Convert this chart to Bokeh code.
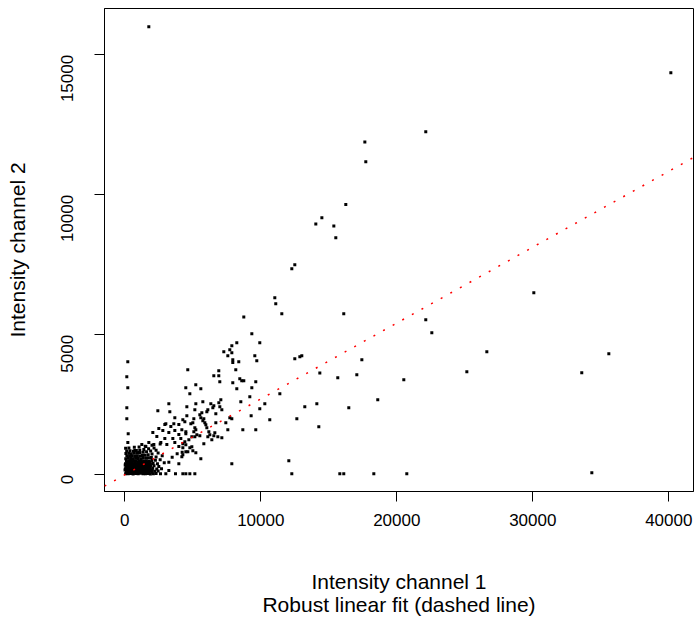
import math
from bokeh.plotting import figure
from bokeh.models import FixedTicker, Slope
from bokeh.embed import file_html
from bokeh.resources import INLINE

# ---- data: isolated / outlying spots (channel 1, channel 2 intensities) ----
outer_ch1 = [1765, 17650, 17720, 16250, 14490, 14045, 15370, 15515, 40150, 22130,
             12500, 12280, 11030, 11100, 11545, 16100, 8750, 9340, 9925, 8235,
             7870, 7280, 7720, 7870, 7575, 7940, 7940, 8380, 9560, 9705,
             12500, 12870, 13015, 17430, 220, 4630, 6910, 6545, 6910, 8160,
             14340, 15660, 17060, 147, 6985, 8455, 8600, 8750, 7940, 9630,
             5220, 4485, 5590, 8235, 9340, 220, 30075, 22130, 22575, 26620,
             35590, 25150, 33600, 20515, 20735, 34340, 11400, 10295, 9925, 13235,
             14120, 16470, 18600, 9290, 10660, 12650, 9630, 14265, 12060, 12280,
             15810, 16100, 18310]
outer_ch2 = [16000, 11890, 11180, 9650, 9180, 8960, 8890, 8465, 14355, 12250,
             7500, 7357, 6320, 6106, 5750, 5750, 5640, 5035, 4714, 4714,
             4607, 4392, 4464, 4357, 4250, 4107, 4010, 4035, 4250, 4070,
             4142, 4214, 4250, 4107, 4035, 3750, 3714, 3535, 3535, 3750,
             3640, 3464, 3571, 3500, 3321, 3428, 3357, 3357, 3285, 3321,
             3214, 3107, 3071, 3071, 3107, 3107, 6500, 5535, 5070, 4392,
             4320, 3678, 3642, 3392, 36, 71, 2892, 2535, 2357, 2428,
             2535, 2392, 2678, 2107, 1964, 2000, 1607, 1714, 500, 36,
             36, 36, 36]

# ---- data: spots in the 4000-9000 band ----
mid_ch1 = [4782, 9192, 5738, 5223, 4562, 7061, 6914, 6326, 6546, 6473,
           6987, 7135, 8531, 5150, 6693, 6105, 6032, 5664, 5517, 5590,
           5811, 5738, 5885, 5958, 6032, 6179, 6252, 6399, 6105, 6546,
           6840, 7135, 5076, 4562, 4268, 4415, 5003, 4856, 5150, 5223,
           5076, 4488, 4194, 4488, 5297, 5517, 5150, 4929, 4709, 4415,
           4268, 4488, 4929, 4782, 4268, 4635, 5003, 5223, 4488, 4268,
           4194, 5811, 5590, 6620, 6693, 7428, 7722, 7869, 7575, 8678,
           7869, 4268, 4488, 4782, 5150]
mid_ch2 = [2892, 2785, 2606, 2535, 2428, 2678, 2571, 2535, 2464, 2392,
           2428, 2321, 2606, 2321, 2178, 2321, 2249, 2214, 2142, 2035,
           2000, 1928, 1857, 1785, 1678, 1535, 1428, 1250, 1357, 1393,
           1357, 1321, 2000, 2107, 1964, 1892, 1857, 1821, 1678, 1607,
           1535, 1535, 1607, 1464, 1428, 1393, 1357, 1357, 1250, 1178,
           1107, 1071, 1000, 964, 964, 821, 857, 786, 821, 714,
           643, 1107, 572, 1500, 1857, 1857, 2035, 2000, 1607, 1607,
           393, 36, 36, 36, 36]

# ---- data: spots around the dense low-intensity cluster ----
near_ch1 = [149, 149, 3238, 2429, 3311, 3679, 3017, 3605,
            2943, 3385, 3973, 2502, 2796, 3238, 3679, 3973, 2061, 2355,
            250, 2943, 3532, 4120, 1767, 2135, 2649, 3091, 3679, 3973,
            223, 1252, 1546, 738, 1032, 3238, 3483, 3850, 4218, 3973,
            3238, 3728]
near_ch2 = [2392, 1999, 2535, 2285, 2249, 2035, 1821, 1821,
            1796, 1725, 1796, 1653, 1582, 1511, 1582, 1439, 1511, 1368,
            1470, 1296, 1296, 1296, 1154, 1082, 1154, 1082, 1154, 1011,
            1154, 1082, 1011, 868, 796, 451, 630, 749, 809, 392,
            154, 35]

# ---- data: dense cluster of low-intensity spots ----
core_ch1 = [60, 250, 420, 610, 790, 980, 1150, 1340, 1520, 1700, 1880, 2100, 2300, 2625, 3017,
            110, 300, 480, 650, 840, 1020, 1210, 1390, 1580, 1760, 1950, 2200, 2450,
            40, 200, 380, 560, 740, 920, 1100, 1290, 1460, 1650, 1830, 2050, 2350, 2700,
            90, 270, 450, 630, 820, 1000, 1180, 1360, 1540, 1720, 1910, 2150, 2500,
            50, 230, 410, 590, 770, 950, 1130, 1310, 1490, 1680, 1870, 2080, 2400, 2900,
            120, 310, 490, 670, 850, 1040, 1220, 1400, 1590, 1780, 1990, 2250, 2600,
            70, 260, 440, 620, 800, 980, 1170, 1350, 1540, 1740, 1950, 2300, 2750,
            150, 350, 540, 730, 920, 1110, 1300, 1500, 1720, 2000, 2450,
            80, 290, 480, 700, 900, 1120, 1350, 1600, 1900, 2300,
            140, 380, 620, 850, 1100, 1400, 1750, 2150,
            60, 300, 700, 1050, 1500, 2000, 2600,
            160, 340, 520, 700, 880, 1060, 1250, 1430, 1610, 1800, 2000,
            20, 180, 360, 540, 720, 900, 1080, 1260, 1440, 1620, 1800, 2010,
            140, 320, 500, 680, 860, 1040, 1220, 1410, 1600, 1790,
            30, 210, 390, 570, 750, 930, 1110, 1300, 1480, 1680, 1880,
            180, 370, 560, 750, 950, 1150, 1370, 1600, 1820]
core_ch2 = [40, 35, 50, 30, 45, 38, 52, 36, 41, 48, 33, 40, 44, 36, 36,
            120, 135, 128, 140, 118, 132, 126, 138, 122, 130, 141, 125, 133,
            215, 228, 210, 232, 220, 205, 226, 218, 235, 212, 224, 230, 208, 215,
            305, 318, 300, 312, 322, 298, 315, 308, 320, 303, 311, 325, 300,
            395, 410, 402, 390, 415, 398, 406, 392, 412, 400, 418, 405, 396, 430,
            485, 498, 480, 492, 505, 488, 495, 482, 500, 490, 510, 520, 540,
            575, 590, 582, 570, 595, 585, 578, 592, 600, 610, 620, 640, 680,
            668, 680, 672, 660, 685, 675, 690, 700, 720, 740, 780,
            760, 772, 755, 768, 780, 790, 805, 820, 850, 880,
            850, 862, 845, 870, 880, 900, 930, 960,
            945, 960, 980, 990, 1020, 1060, 1100,
            85, 90, 80, 88, 95, 82, 90, 86, 92, 84, 88,
            170, 178, 165, 175, 172, 168, 180, 174, 166, 176, 170, 182,
            262, 255, 268, 258, 265, 260, 270, 256, 264, 272,
            352, 360, 348, 356, 362, 350, 358, 364, 354, 360, 366,
            440, 448, 445, 452, 442, 450, 456, 446, 460]

# robust linear fit coefficients
fit_slope = 0.271
fit_intercept = 0.0

x_ticks = [0, 10000, 20000, 30000, 40000]
y_ticks = [0, 5000, 10000, 15000]
x_title = "Intensity channel 1\nRobust linear fit (dashed line)"
y_title = "Intensity channel 2"

FONT = "Liberation Sans"

p = figure(width=698, height=618, x_range=(-1493, 41816), y_range=(-596, 16654),
           output_backend="svg", toolbar_location=None,
           min_border_left=104, min_border_right=5, min_border_top=8, min_border_bottom=127)
p.grid.visible = False
p.outline_line_color = "black"
p.outline_line_width = 1
p.background_fill_color = "white"
p.border_fill_color = "white"

for ax in (p.xaxis[0], p.yaxis[0]):
    ax.major_tick_out = 10
    ax.major_tick_in = 0
    ax.minor_tick_line_color = None
    ax.axis_line_color = "black"
    ax.major_tick_line_color = "black"
    ax.major_label_text_font = FONT
    ax.major_label_text_font_size = "17px"
    ax.major_label_text_color = "black"
    ax.axis_label_text_font = FONT
    ax.axis_label_text_font_size = "21px"
    ax.axis_label_text_font_style = "normal"
    ax.axis_label_text_color = "black"

p.xaxis.ticker = FixedTicker(ticks=x_ticks)
p.yaxis.ticker = FixedTicker(ticks=y_ticks)
p.xaxis.major_label_standoff = 12
p.yaxis.major_label_standoff = 27
p.yaxis.major_label_orientation = math.pi / 2
p.xaxis.axis_label = x_title
p.yaxis.axis_label = y_title
p.xaxis.axis_label_standoff = 41
p.xaxis.axis_label_text_line_height = 1.0
p.yaxis.axis_label_standoff = 24

for xs, ys in ((core_ch1, core_ch2), (near_ch1, near_ch2), (mid_ch1, mid_ch2), (outer_ch1, outer_ch2)):
    p.scatter(xs, ys, marker="square", size=3, fill_color="black", line_color=None)

p.add_layout(Slope(gradient=fit_slope, y_intercept=fit_intercept, line_color="red",
                   line_width=1.5, line_dash="2 9"))

open("out.html", "w").write(file_html(p, INLINE))
